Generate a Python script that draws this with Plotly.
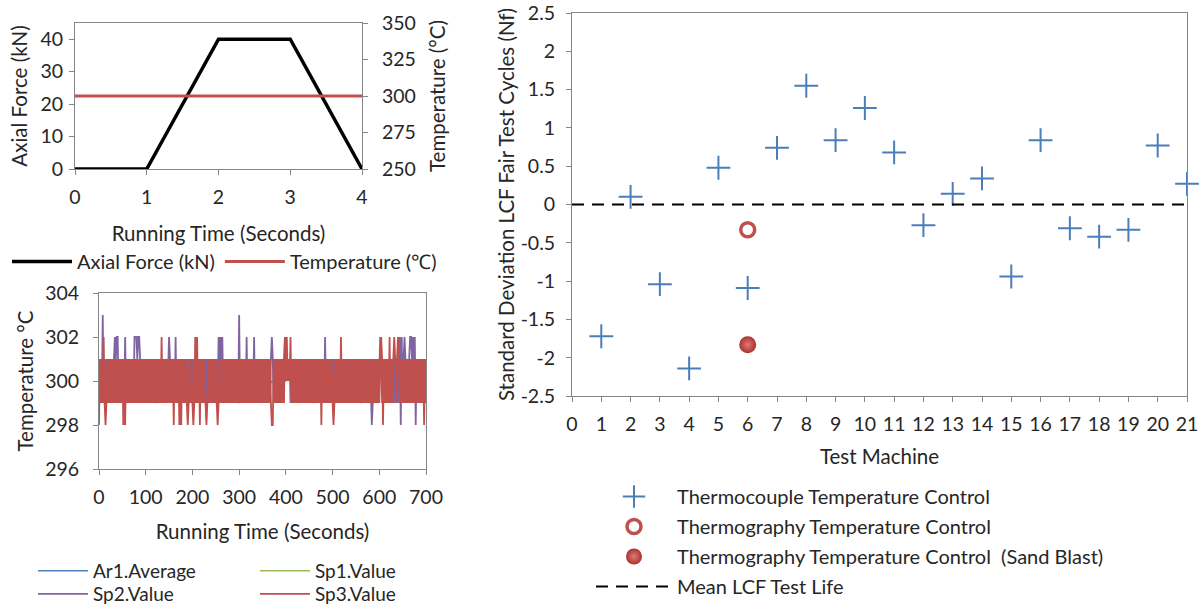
import plotly.graph_objects as go

W, H = 1202, 605
FONT = "Lato"
AXIS_GREY = "#868686"
TEXT = "#262626"

# ---- Load cycle (top left) ----
CYCLE_TIME_S = [0, 1, 2, 3, 4]
AXIAL_FORCE_KN = [0, 0, 40, 40, 0]
SETPOINT_TIME_S = [0, 4]
SETPOINT_TEMP_C = [300, 300]

# ---- Temperature log (bottom left) ----
# Spot readings logged every 2 s; each digit is degrees above LOG_BASE_C.
LOG_STEP_S = 2
LOG_BASE_C = 298
SP2_CODES = (
    "3131513131" "3131313434" "4131313141" "3131313144" "4344313131"
    "3131313131" "3131313131" "3131343131" "3141313031" "3131313131"
    "3131313131" "3131313131" "3131313141" "4341313131" "3131313131"
    "5131313141" "3131314131" "3131313131" "3131343131" "3131313134"
    "3232313131" "3131313131" "3131313131" "3131313131" "3141313131"
    "3131313131" "3131313131" "3131313131" "3131313131" "3101313131"
    "3431313131" "3131313131" "3140413431" "3134434340" "3131313131"
    "3"
)
SP3_CODES = (
    "0313141013" "1313131313" "1313130303" "1313131313" "1313131313"
    "1313131313" "1313131413" "1313131313" "0313130303" "1313101313"
    "1014141303" "1313101313" "1313131013" "1313131313" "1313131313"
    "1313131313" "1313131313" "1313131313" "1313100313" "1313131314"
    "2423241313" "1313131313" "1313131313" "1313131303" "1313131313"
    "1013131314" "1313131313" "1313131313" "1313131313" "1313131313"
    "1343031313" "1413134313" "4313131313" "1313131313" "1313131303"
    "1"
)
# Area average and spot 1, every 20 s
AVG_STEP_S = 20
AR1_AVERAGE = [300.6, 300.2, 300.3, 300.1, 300.4, 300.0, 300.1, 300.0, 299.9,
               299.8, 300.0, 299.9, 300.0, 300.2, 300.0, 300.2, 300.1, 300.0,
               299.9, 300.0, 300.3, 300.1, 300.0, 300.0, 300.1, 299.9, 300.0,
               300.0, 300.0, 299.9, 300.1, 300.2, 300.2, 300.3, 300.1, 300.0]
SP1_VALUE = [300, 301, 300, 299, 301, 300, 299, 300, 301, 300, 299, 300,
             301, 300, 300, 299, 300, 301, 300, 300, 300, 301, 300, 299,
             300, 301, 300, 300, 299, 300, 301, 300, 300, 301, 300, 300]

# ---- LCF scatter (right) ----
MACHINES = list(range(1, 22))
THERMOCOUPLE_SD = [-1.72, 0.10, -1.04, -2.14, 0.48, -1.09, 0.74, 1.55, 0.84,
                   1.26, 0.68, -0.27, 0.14, 0.34, -0.94, 0.84, -0.31, -0.42,
                   -0.33, 0.77, 0.27]
THERMOGRAPHY_MACHINE = [6]
THERMOGRAPHY_SD = [-0.33]
SANDBLAST_MACHINE = [6]
SANDBLAST_SD = [-1.83]
MEAN_MACHINE = [0, 21]
MEAN_SD = [0, 0]
SD_TICKS = [-2.5, -2, -1.5, -1, -0.5, 0, 0.5, 1, 1.5, 2, 2.5]


def fx(p):
    return p / W


def fy(p):
    return 1 - p / H


def decode(codes):
    return [LOG_BASE_C + int(c) for c in codes]


sp2 = decode(SP2_CODES)
sp3 = decode(SP3_CODES)
log_t = [i * LOG_STEP_S for i in range(len(sp3))]
avg_t = [i * AVG_STEP_S for i in range(len(AR1_AVERAGE))]

fig = go.Figure()

# Top-left: load cycle
fig.add_trace(go.Scatter(x=CYCLE_TIME_S, y=AXIAL_FORCE_KN, mode="lines",
                         name="Axial Force (kN)", line=dict(color="black", width=3.5),
                         xaxis="x", yaxis="y", legend="legend"))
fig.add_trace(go.Scatter(x=SETPOINT_TIME_S, y=SETPOINT_TEMP_C, mode="lines",
                         name="Temperature (℃)", line=dict(color="#c0504d", width=3),
                         xaxis="x", yaxis="y2", legend="legend"))

# Bottom-left: logged temperatures (legend laid out as a 2x2 grid)
fig.add_trace(go.Scatter(x=avg_t, y=AR1_AVERAGE, mode="lines", name="Ar1.Average",
                         line=dict(color="#4f81bd", width=1.5),
                         xaxis="x2", yaxis="y3", legend="legend2"))
fig.add_trace(go.Scatter(x=avg_t, y=SP1_VALUE, mode="lines", name="Sp1.Value",
                         line=dict(color="#9bbb59", width=1.5),
                         xaxis="x2", yaxis="y3", legend="legend4"))
fig.add_trace(go.Scatter(x=log_t, y=sp2, mode="lines", name="Sp2.Value",
                         line=dict(color="#8064a2", width=1.8),
                         xaxis="x2", yaxis="y3", legend="legend5"))
fig.add_trace(go.Scatter(x=log_t, y=sp3, mode="lines", name="Sp3.Value",
                         line=dict(color="#c0504d", width=1.8),
                         xaxis="x2", yaxis="y3", legend="legend6"))

# Right: standard deviation per machine
fig.add_trace(go.Scatter(x=MACHINES, y=THERMOCOUPLE_SD, mode="markers",
                         name="Thermocouple Temperature Control",
                         marker=dict(symbol="cross-thin", size=17, color="#4a7ebb",
                                     line=dict(color="#4a7ebb", width=2)),
                         cliponaxis=False, xaxis="x3", yaxis="y4",
                         legend="legend3", legendgroup="a"))
fig.add_trace(go.Scatter(x=THERMOGRAPHY_MACHINE, y=THERMOGRAPHY_SD, mode="markers",
                         name="Thermography Temperature Control",
                         marker=dict(symbol="circle-open", size=14, color="#c0504d",
                                     line=dict(color="#c0504d", width=3.5)),
                         cliponaxis=False, xaxis="x3", yaxis="y4",
                         legend="legend3", legendgroup="b"))
fig.add_trace(go.Scatter(x=SANDBLAST_MACHINE, y=SANDBLAST_SD, mode="markers",
                         name="Thermography Temperature Control\u00a0 (Sand Blast)",
                         marker=dict(symbol="circle", size=17, color="#a8322e",
                                     gradient=dict(type="radial", color="#e07b76"),
                                     line=dict(width=0)),
                         cliponaxis=False, xaxis="x3", yaxis="y4",
                         legend="legend3", legendgroup="c"))
fig.add_trace(go.Scatter(x=MEAN_MACHINE, y=MEAN_SD, mode="lines",
                         name="Mean LCF Test Life",
                         line=dict(color="black", width=2, dash="12px,8px"),
                         xaxis="x3", yaxis="y4", legend="legend3", legendgroup="d"))

tick_font = dict(family=FONT, size=19.5, color=TEXT)
title_font = dict(family=FONT, size=20.5, color=TEXT)
legend_font = dict(family=FONT, size=20, color=TEXT)
small_legend_font = dict(family=FONT, size=19, color=TEXT)

common_axis = dict(showgrid=False, zeroline=False, showline=True,
                   linecolor=AXIS_GREY, linewidth=1, ticks="outside",
                   ticklen=5, tickcolor=AXIS_GREY, tickfont=tick_font)


def grid_legend(left_px, top_px):
    return dict(orientation="v", x=fx(left_px), y=fy(top_px), xanchor="left",
                yanchor="top", itemwidth=50, font=small_legend_font,
                bgcolor="rgba(0,0,0,0)")


fig.update_layout(
    width=W, height=H,
    margin=dict(l=0, r=0, t=0, b=0, autoexpand=False),
    paper_bgcolor="white", plot_bgcolor="white",
    font=dict(family=FONT, color=TEXT),
    showlegend=True,
    xaxis=dict(common_axis, domain=[fx(75), fx(362)], anchor="y", range=[0, 4],
               dtick=1, mirror=True, ticklabelstandoff=6,
               title=dict(text="Running Time (Seconds)", font=title_font, standoff=19)),
    yaxis=dict(common_axis, domain=[fy(169), fy(23)], anchor="x", range=[0, 45],
               tickvals=[0, 10, 20, 30, 40], ticklabelstandoff=2,
               title=dict(text="Axial Force (kN)", font=title_font, standoff=7)),
    yaxis2=dict(common_axis, overlaying="y", side="right", anchor="x",
                range=[250, 350], dtick=25, ticklabelstandoff=10,
                title=dict(text="Temperature (°C)", font=title_font, standoff=15)),
    xaxis2=dict(common_axis, domain=[fx(99), fx(426)], anchor="y3", range=[0, 700],
                dtick=100, mirror=True, ticklabelstandoff=6,
                title=dict(text="Running Time (Seconds)", font=title_font, standoff=17)),
    yaxis3=dict(common_axis, domain=[fy(469), fy(293)], anchor="x2", range=[296, 304],
                dtick=2, mirror=True, ticklabelstandoff=10,
                title=dict(text="Temperature °C", font=title_font, standoff=5)),
    xaxis3=dict(common_axis, domain=[fx(572), fx(1187)], anchor="y4", range=[0, 21],
                dtick=1, mirror=True, ticklabelstandoff=6,
                title=dict(text="Test Machine", font=title_font, standoff=15)),
    yaxis4=dict(common_axis, domain=[fy(396), fy(13)], anchor="x3", range=[-2.5, 2.5],
                tickvals=SD_TICKS, ticktext=[f"{v:g}" for v in SD_TICKS], mirror=True,
                ticklabelstandoff=7,
                title=dict(text="Standard Deviation LCF Fair Test Cycles (Nf)",
                           font=title_font, standoff=0)),
    legend=dict(orientation="h", x=fx(7), y=fy(242), xanchor="left", yanchor="top",
                itemwidth=60, font=legend_font, bgcolor="rgba(0,0,0,0)"),
    legend2=grid_legend(33, 552),
    legend4=grid_legend(255, 552),
    legend5=grid_legend(33, 575),
    legend6=grid_legend(255, 575),
    legend3=dict(orientation="v", x=fx(591), y=fy(477), xanchor="left", yanchor="top",
                 traceorder="grouped", tracegroupgap=1, itemwidth=76,
                 font=legend_font, bgcolor="rgba(0,0,0,0)"),
)

fig.write_html("out.html")
